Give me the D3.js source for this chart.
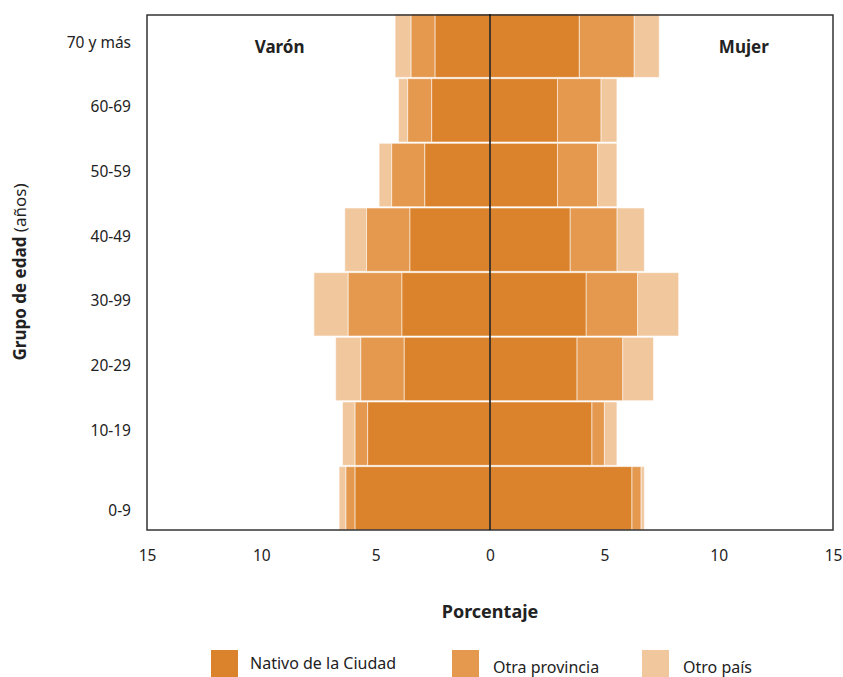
<!DOCTYPE html>
<html>
<head>
<meta charset="utf-8">
<script src="https://cdn.jsdelivr.net/npm/d3@7"></script>
<style>
  body { margin: 0; background: #fff; }
  svg text { font-family: 'Noto Sans', 'Open Sans', sans-serif; fill: #222; }
</style>
</head>
<body>
<svg id="chart" width="843" height="677"></svg>
<script>
// grupos de edad, de arriba hacia abajo
const ageGroups = ['70 y más', '60-69', '50-59', '40-49', '30-99', '20-29', '10-19', '0-9'];
const seriesNames = ['Nativo de la Ciudad', 'Otra provincia', 'Otro país'];
const seriesColors = ['#db832c', '#e4994f', '#f1c89e'];

// porcentajes por sexo y origen
const varonNativo = [2.4, 2.55, 2.85, 3.5, 3.85, 3.75, 5.35, 5.9];
const varonProvincia = [1.05, 1.05, 1.45, 1.9, 2.35, 1.9, 0.55, 0.4];
const varonOtroPais = [0.7, 0.4, 0.55, 0.95, 1.5, 1.1, 0.55, 0.3];
const mujerNativo = [3.9, 2.95, 2.95, 3.5, 4.2, 3.8, 4.45, 6.2];
const mujerProvincia = [2.4, 1.9, 1.75, 2.05, 2.25, 2.0, 0.55, 0.4];
const mujerOtroPais = [1.1, 0.7, 0.85, 1.2, 1.8, 1.35, 0.55, 0.15];

const xTicks = [-15, -10, -5, 0, 5, 10, 15];

const svg = d3.select('#chart');
const margin = { top: 14, right: 10, bottom: 147, left: 147 };
const width = 843;
const height = 677;

const x = d3.scaleLinear()
  .domain([-15, 15])
  .range([margin.left, width - margin.right]);

const y = d3.scaleBand()
  .domain(ageGroups)
  .range([margin.top, height - margin.bottom])
  .paddingInner(0.02);

const keys = ['nativo', 'provincia', 'otro'];
const makeRows = (a, b, c) => ageGroups.map((g, i) => ({ group: g, nativo: a[i], provincia: b[i], otro: c[i] }));
const stack = d3.stack().keys(keys);

const sides = [
  { sign: -1, layers: stack(makeRows(varonNativo, varonProvincia, varonOtroPais)) },
  { sign: 1, layers: stack(makeRows(mujerNativo, mujerProvincia, mujerOtroPais)) },
];

sides.forEach((side) => {
  // draw outer layers first so inner ones sit on top
  side.layers.slice().reverse().forEach((layer) => {
    svg.append('g')
      .selectAll('rect')
      .data(layer)
      .enter()
      .append('rect')
      .attr('x', (d) => side.sign < 0 ? x(-d[1]) : x(d[0]))
      .attr('width', (d) => x(d[1]) - x(d[0]))
      .attr('y', (d) => y(d.data.group))
      .attr('height', y.bandwidth())
      .attr('fill', seriesColors[layer.index])
      .attr('stroke', '#fff')
      .attr('stroke-opacity', 0.55)
      .attr('stroke-width', 1);
  });
});

// marco del gráfico
svg.append('rect')
  .attr('x', x(-15))
  .attr('y', margin.top + 1)
  .attr('width', x(15) - x(-15))
  .attr('height', height - margin.bottom - margin.top - 1)
  .attr('fill', 'none')
  .attr('stroke', '#333')
  .attr('stroke-width', 1.5);

svg.append('line')
  .attr('x1', x(0)).attr('x2', x(0))
  .attr('y1', margin.top).attr('y2', height - margin.bottom)
  .attr('stroke', '#111')
  .attr('stroke-width', 1.5);

// eje x
const xAxis = d3.axisBottom(x)
  .tickValues(xTicks)
  .tickFormat((d) => Math.abs(d))
  .tickSize(0)
  .tickPadding(20);

const gx = svg.append('g')
  .attr('transform', `translate(0,${height - margin.bottom})`)
  .call(xAxis);
gx.select('.domain').remove();
gx.selectAll('text').attr('font-size', 15.5).attr('fill', '#222');

// eje y
const yAxis = d3.axisLeft(y).tickSize(0).tickPadding(16);
const gy = svg.append('g')
  .attr('transform', `translate(${margin.left},0)`)
  .call(yAxis);
gy.select('.domain').remove();
gy.selectAll('text')
  .attr('font-size', 15.5)
  .attr('fill', '#222')
  .attr('dy', (d, i) => i === ageGroups.length - 1 ? '1.15em' : '0.12em');

// títulos
svg.append('text')
  .attr('x', x(-9.2)).attr('y', 53)
  .attr('text-anchor', 'middle')
  .attr('font-size', 17).attr('font-weight', 'bold')
  .text('Varón');

svg.append('text')
  .attr('x', x(11.1)).attr('y', 53)
  .attr('text-anchor', 'middle')
  .attr('font-size', 17).attr('font-weight', 'bold')
  .text('Mujer');

svg.append('text')
  .attr('x', x(0)).attr('y', 618)
  .attr('text-anchor', 'middle')
  .attr('font-size', 18).attr('font-weight', 'bold')
  .text('Porcentaje');

const yTitle = svg.append('text')
  .attr('transform', `translate(26,${(margin.top + height - margin.bottom) / 2}) rotate(-90)`)
  .attr('text-anchor', 'middle')
  .attr('font-size', 17);
yTitle.append('tspan').attr('font-weight', 'bold').text('Grupo de edad ');
yTitle.append('tspan').text('(años)');

// leyenda
const legendX = [211, 452, 642];
const legendTextDy = [0, 4, 4];
const legend = svg.append('g')
  .selectAll('g')
  .data(seriesNames)
  .enter()
  .append('g')
  .attr('transform', (d, i) => `translate(${legendX[i]},650)`);

legend.append('rect')
  .attr('width', 27).attr('height', 27)
  .attr('fill', (d, i) => seriesColors[i]);

legend.append('text')
  .attr('x', (d, i) => i === 0 ? 39 : 41)
  .attr('y', (d, i) => 19 + legendTextDy[i])
  .attr('font-size', 16)
  .text((d) => d);
</script>
</body>
</html>
